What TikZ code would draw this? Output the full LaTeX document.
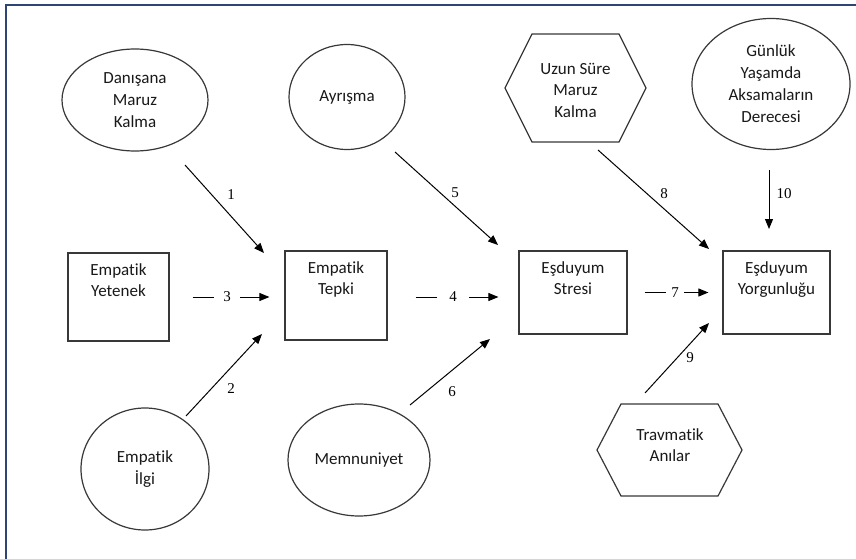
\documentclass[tikz,border=0pt]{standalone}
\usepackage{fontspec}
\setmainfont{Carlito}[Ligatures={NoCommon}]
\newfontfamily\numfont{Liberation Serif}
\usetikzlibrary{shapes.geometric,arrows.meta}
\definecolor{framecol}{HTML}{2F4474}
\begin{document}
\begin{tikzpicture}[x=1pt,y=-1pt,
  shapeline/.style={draw=black!78, line width=1.2pt},
  boxnode/.style={shapeline, rectangle, inner sep=0pt},
  ellnode/.style={shapeline, ellipse, inner sep=0pt, align=center, font=\fontsize{17}{22}\selectfont, text=black!90},
  txt/.style={align=center, inner sep=0pt, font=\fontsize{17}{21.5}\selectfont, text=black!90},
  numlbl/.style={font=\numfont\fontsize{15}{17}\selectfont, inner sep=0pt},
  arr/.style={draw=black, line width=1pt, -{Triangle[length=10pt,width=8pt]}}
]
\useasboundingbox (0,0) rectangle (856,559);
\fill[white] (0,0) rectangle (856,559);
% frame
\draw[framecol, line width=1.5pt] (6,559) -- (6,5) -- (856,5);

% boxes
\node[boxnode, minimum width=101pt, minimum height=88pt] (yet) at (118.5,297) {};
\node[txt, anchor=north] at ([yshift=-11pt]yet.north) {Empatik\\Yetenek};
\node[boxnode, minimum width=102pt, minimum height=89pt] (tepki) at (336,295.5) {};
\node[txt, anchor=north] at ([yshift=-11pt]tepki.north) {Empatik\\Tepki};
\node[boxnode, minimum width=108pt, minimum height=83pt] (stresi) at (573,292.5) {};
\node[txt, anchor=north] at ([yshift=-11pt]stresi.north) {Eşduyum\\Stresi};
\node[boxnode, minimum width=107pt, minimum height=83pt] (yorg) at (776.5,292.5) {};
\node[txt, anchor=north] at ([yshift=-11pt]yorg.north) {Eşduyum\\Yorgunluğu};

% ellipses
\node[ellnode, minimum width=146pt, minimum height=102pt] (dan) at (135,100) {Danışana\\Maruz\\Kalma};
\node[ellnode, minimum width=116pt, minimum height=105pt] (ayr) at (347,97) {Ayrışma};
\node[ellnode, minimum width=158pt, minimum height=131pt] (gun) at (771,84) {Günlük\\Yaşamda\\Aksamaların\\Derecesi};
\node[ellnode, minimum width=128pt, minimum height=122pt] (ilgi) at (145,469) {Empatik\\İlgi};
\node[ellnode, minimum width=142pt, minimum height=112pt] (memn) at (359,460) {Memnuniyet};

% hexagons
\draw[shapeline] (505,88) -- (532,34) -- (619,34) -- (646,88) -- (619,142) -- (532,142) -- cycle;
\node[txt] (uzun) at (575.5,90) {Uzun Süre\\Maruz\\Kalma};
\draw[shapeline] (597,450) -- (621,404) -- (718,404) -- (742,450) -- (718,496) -- (621,496) -- cycle;
\node[txt] (travma) at (670,445) {Travmatik\\Anılar};

% horizontal connectors
\draw[arr, shorten <=23pt, shorten >=15pt] (yet.east) -- node[numlbl, fill=white, inner xsep=9.5pt, inner ysep=2pt] {3} (yet.east -| tepki.west);
\draw[arr, shorten <=28pt, shorten >=20pt] (tepki.east |- yet.east) -- node[numlbl, fill=white, inner xsep=12.5pt, inner ysep=2pt] {4} (yet.east -| stresi.west);
\draw[arr, shorten <=17pt, shorten >=14pt] (stresi.east) -- node[numlbl, fill=white, inner xsep=5pt, inner ysep=2pt] {7} (stresi.east -| yorg.west);

% diagonal connectors
\coordinate (c1a) at (185,165); \coordinate (c1b) at (264,253);
\coordinate (c2a) at (186,416); \coordinate (c2b) at (262,334);
\coordinate (c5a) at (395,152); \coordinate (c5b) at (498,245);
\coordinate (c6a) at (410,405); \coordinate (c6b) at (490,339);
\coordinate (c8a) at (598,150); \coordinate (c8b) at (709,249);
\coordinate (c9a) at (645,393); \coordinate (c9b) at (709,323);
\coordinate (c10a) at (769,170); \coordinate (c10b) at (769,229);
\draw[arr] (c1a) -- (c1b);
\draw[arr] (c2a) -- (c2b);
\draw[arr] (c5a) -- (c5b);
\draw[arr] (c6a) -- (c6b);
\draw[arr] (c8a) -- (c8b);
\draw[arr] (c9a) -- (c9b);
\draw[arr] (c10a) -- (c10b);

% labels
\node[numlbl] (n1) at (231,195) {1};
\node[numlbl] (n2) at (231,389) {2};
\node[numlbl] (n5) at (455,193) {5};
\node[numlbl] (n6) at (452,392) {6};
\node[numlbl] (n8) at (664,194) {8};
\node[numlbl] (n9) at (690,358) {9};
\node[numlbl] (n10) at (784,194) {10};
\end{tikzpicture}
\end{document}
